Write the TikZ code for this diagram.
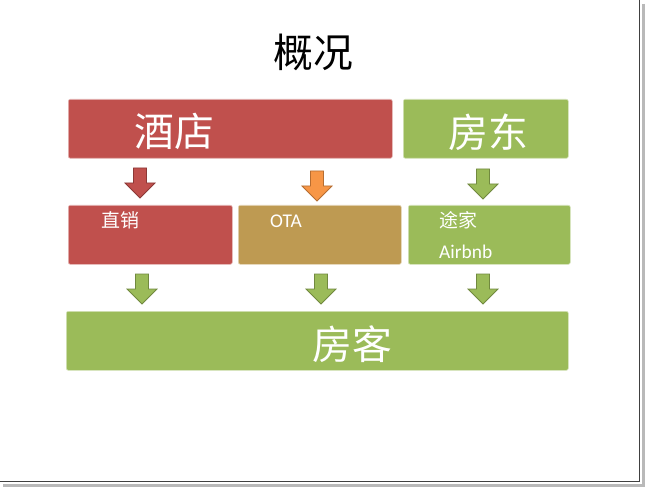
\documentclass[tikz,border=0pt]{standalone}
\usepackage{fontspec}
\setmainfont{Carlito}
\newfontfamily\cjk{Noto Sans CJK SC}
\definecolor{hotelred}{HTML}{C0504D}
\definecolor{hotelredline}{HTML}{8C3836}
\definecolor{hostgreen}{HTML}{9BBB59}
\definecolor{hostgreenline}{HTML}{71893F}
\definecolor{otagold}{HTML}{BE9A52}
\definecolor{arroworange}{HTML}{F79646}
\definecolor{arroworangeline}{HTML}{B66D31}
\tikzset{
  box/.style={rounded corners=2bp, draw=white!60!#1, line width=0.6bp, fill=#1, inner sep=0pt, anchor=north west},
  bigtext/.style={text=white, font=\cjk\fontsize{40}{44}\selectfont, inner sep=0pt},
  smalltext/.style={text=white, font=\cjk\fontsize{19}{22}\selectfont, inner sep=0pt, anchor=west},
  latintext/.style={text=white, font=\fontsize{19.5}{23}\selectfont, inner sep=0pt, anchor=west},
  blockarrow/.pic={\path[pic actions] (-6.5,0) -- (6.5,0) -- (6.5,15) -- (15,15) -- (0,30) -- (-15,15) -- (-6.5,15) -- cycle;}
}
\begin{document}
\begin{tikzpicture}[x=1bp,y=-1bp]
\useasboundingbox (0,0) rectangle (647,488);
\fill[white] (0,0) rectangle (647,488);
% slide frame with shadow
\draw[gray!55, line width=3bp] (643,4) -- (643,485) -- (3,485);
\draw[black!75, line width=1bp] (639.5,0) -- (639.5,481.5) -- (0,481.5);

% title
\node[font=\cjk\fontsize{40}{44}\selectfont, inner sep=0pt] (title) at (313,52) {概况};

% top row
\node[box=hotelred, minimum width=324bp, minimum height=59bp] (hotel) at (68,99) {};
\node[box=hostgreen, minimum width=165bp, minimum height=59bp] (host) at (403,99) {};
\node[bigtext] (hoteltxt) at (174,131) {酒店};
\node[bigtext] (hosttxt) at (488,132) {房东};

% middle row
\node[box=hotelred, minimum width=164bp, minimum height=59bp] (direct) at (68,205) {};
\node[box=otagold, minimum width=163bp, minimum height=59bp] (ota) at (238,205) {};
\node[box=hostgreen, minimum width=162bp, minimum height=59bp] (tujia) at (408,205) {};
\node[smalltext] (directtxt) at (101,220) {直销};
\node[latintext] (otatxt) at (270,221) {OTA};
\node[smalltext] (tujiatxt) at (439,220) {途家};
\node[latintext] (airbnbtxt) at (439,252) {Airbnb};

% bottom row
\node[box=hostgreen, minimum width=502bp, minimum height=59bp] (guest) at (66,311) {};
\node[bigtext] (guesttxt) at (352,344) {房客};

% block arrows
\coordinate (a1) at (140,168);
\coordinate (a2) at (317,171);
\coordinate (a3) at (483,169);
\coordinate (b1) at (142,274);
\coordinate (b2) at (321,274);
\coordinate (b3) at (483,274);
\pic[fill=hotelred, draw=hotelredline, line width=0.8bp] at (a1) {blockarrow};
\pic[fill=arroworange, draw=arroworangeline, line width=0.8bp] at (a2) {blockarrow};
\pic[fill=hostgreen, draw=hostgreenline, line width=0.8bp] at (a3) {blockarrow};
\pic[fill=hostgreen, draw=hostgreenline, line width=0.8bp] at (b1) {blockarrow};
\pic[fill=hostgreen, draw=hostgreenline, line width=0.8bp] at (b2) {blockarrow};
\pic[fill=hostgreen, draw=hostgreenline, line width=0.8bp] at (b3) {blockarrow};
\end{tikzpicture}
\end{document}
